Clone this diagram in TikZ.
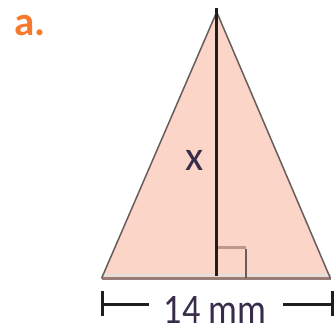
\documentclass[tikz,border=0pt]{standalone}
\usepackage{fontspec}
\setmainfont{Carlito}
\definecolor{trifill}{RGB}{251,213,200}
\definecolor{triedge}{RGB}{105,92,92}
\definecolor{baseedge}{RGB}{150,125,120}
\definecolor{labelorange}{RGB}{245,122,45}
\definecolor{inkdark}{RGB}{30,30,30}
\definecolor{textdark}{RGB}{55,45,75}
\definecolor{marktop}{RGB}{190,150,142}
\tikzset{
  sidestyle/.style={draw=triedge, line width=1.5pt},
  basestyle/.style={draw=baseedge, line width=3.5pt},
  altstyle/.style={draw=inkdark, line width=3pt},
  dimstyle/.style={draw=inkdark, line width=3pt},
  textstyle/.style={inner sep=0pt, text depth=0pt, font=\fontsize{42}{42}\selectfont, text=textdark}
}
\begin{document}
\begin{tikzpicture}[x=1pt,y=-1pt]
\useasboundingbox (0,0) rectangle (335,331);
\coordinate (apex) at (216.7,12);
\coordinate (bl) at (101.5,278.5);
\coordinate (br) at (330.5,278.5);
\coordinate (foot) at (216.7,278.5);
\coordinate (top) at (216.7,8);
% fill
\fill[trifill] (apex) -- (bl) -- (br) -- cycle;
% base shadow
\draw[draw=black!12, line width=2pt] ([yshift=3.5pt]bl) -- ([yshift=3.5pt]br);
% base
\draw[basestyle] (bl) -- (br);
% sides
\draw[sidestyle] (bl) -- (apex) -- (br);
% right angle mark
\coordinate (rtop) at (246,247.5);
\draw[draw=marktop, line width=3pt] (foot |- rtop) -- (rtop);
\draw[draw=triedge, line width=2pt] ([yshift=-1.5pt]rtop) -- (rtop |- foot);
% altitude
\draw[altstyle] (top) -- ([yshift=2pt]foot);
% labels
\node[textstyle, anchor=base] (xlab) at (195,171) {x};
\node[textstyle, anchor=base] (dimlab) at (215,323.5) {\scalebox{0.86}[1]{14 mm}};
\node[inner sep=0pt, text depth=0pt, anchor=base west, font=\fontsize{41}{41}\selectfont\bfseries, text=labelorange] (alab) at (14,36) {a.};
% dimension line
\coordinate (dl) at (102.3,304.5);
\coordinate (dr) at (332,304.5);
\coordinate (dlend) at (148.5,304.5);
\coordinate (drend) at (283,304.5);
\draw[dimstyle] (dl) -- (dlend);
\draw[dimstyle] (drend) -- (dr);
\draw[dimstyle] ([yshift=-12pt]dl) -- ([yshift=13pt]dl);
\draw[dimstyle] ([yshift=-12pt]dr) -- ([yshift=13pt]dr);
\end{tikzpicture}
\end{document}
